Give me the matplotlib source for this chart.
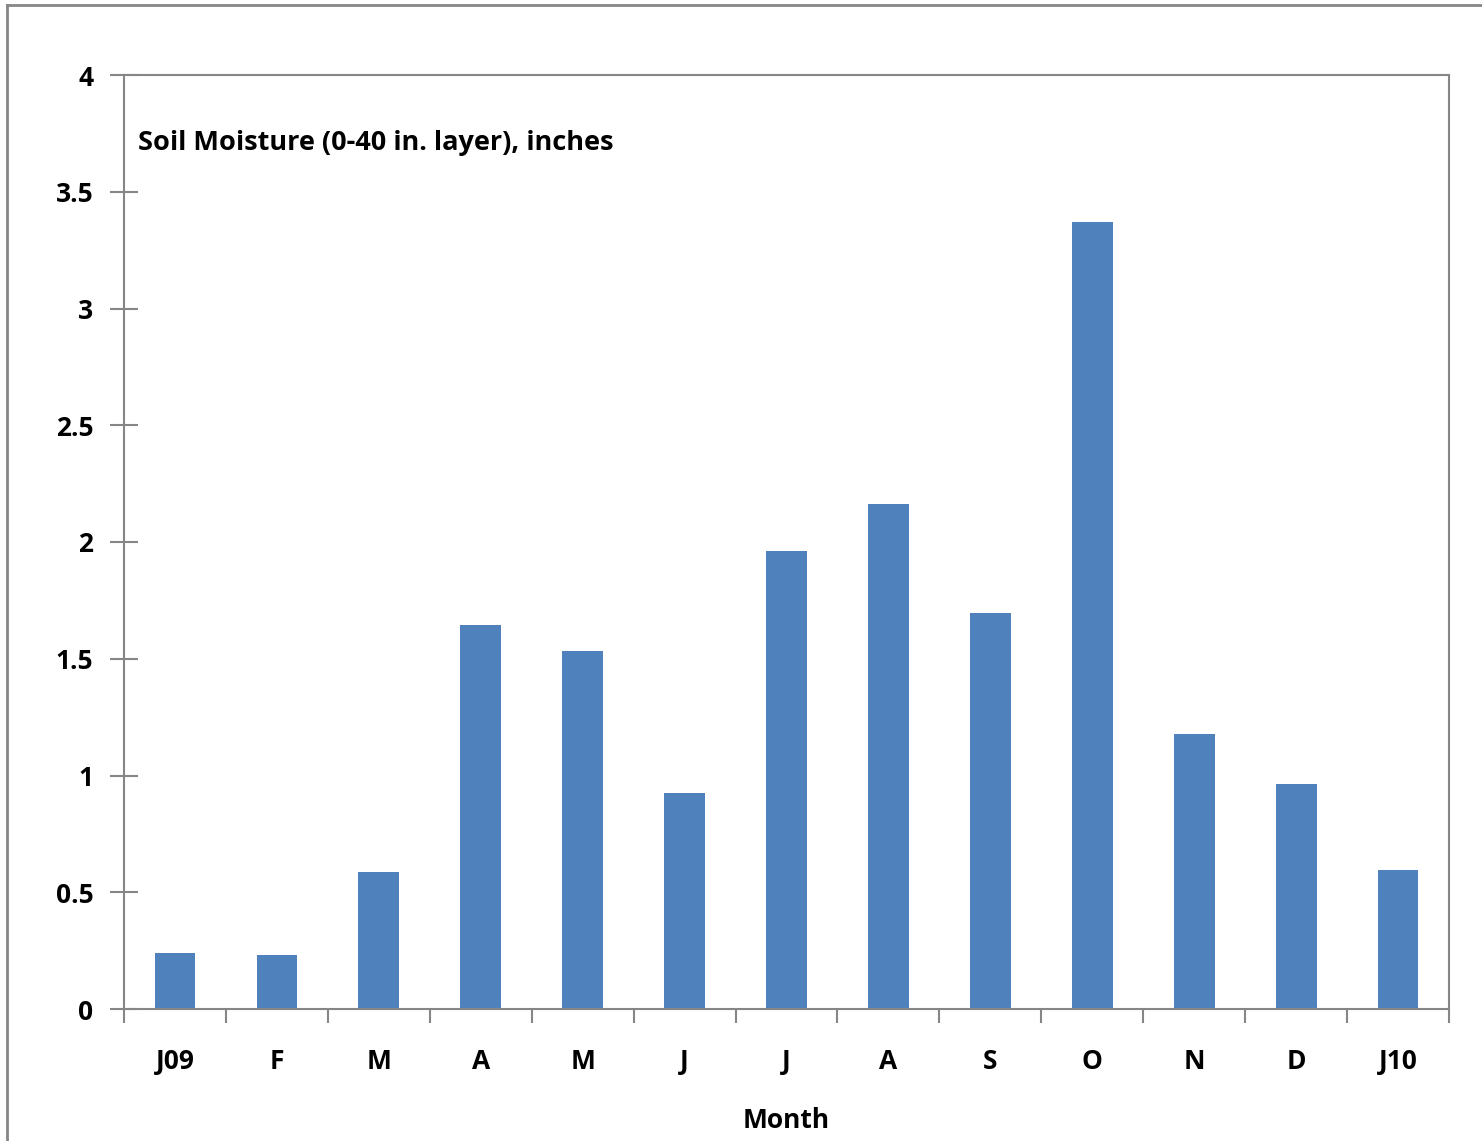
import matplotlib
matplotlib.use("Agg")
import matplotlib.pyplot as plt
from matplotlib.lines import Line2D
import numpy as np

months = ['J09', 'F', 'M', 'A', 'M', 'J', 'J', 'A', 'S', 'O', 'N', 'D', 'J10']
moisture = [0.24, 0.23, 0.587, 1.645, 1.533, 0.925, 1.961, 2.163, 1.696, 3.37, 1.178, 0.964, 0.595]

plt.rcParams['font.family'] = ['Open Sans', 'DejaVu Sans']
plt.rcParams['font.weight'] = 'bold'
fs = 19

grey = '#868686'
fig = plt.figure(figsize=(14.82, 11.41), dpi=100)
ax = fig.add_axes([124/1482, 1 - 1009/1141, (1449-124)/1482, (1009-75)/1141])

x = np.arange(len(months))
ax.bar(x, moisture, width=0.4, color='#4F81BD', zorder=2)

ax.set_xlim(-0.5, len(months) - 0.5)
ax.set_ylim(0, 4)
ax.set_yticks(np.arange(0, 4.01, 0.5))
ax.set_yticklabels(['0', '0.5', '1', '1.5', '2', '2.5', '3', '3.5', '4'], fontweight='bold', fontsize=fs)
ax.set_xticks(x)
ax.set_xticklabels(months, fontweight='bold', fontsize=fs)
ax.set_xticks(np.arange(-0.5, len(months), 1), minor=True)
ax.tick_params(axis='x', which='major', length=0, pad=28)
ax.tick_params(axis='x', which='minor', length=10, width=1.5, color=grey, direction='out')
ax.tick_params(axis='y', length=20, width=1.5, color=grey, direction='inout', pad=12)

for s in ax.spines.values():
    s.set_color(grey)
    s.set_linewidth(1.5)

ax.set_xlabel('Month', fontsize=fs, fontweight='bold', labelpad=23)
ax.text((138-124)/(1449-124), (1009-143)/(1009-75), 'Soil Moisture (0-40 in. layer), inches',
        transform=ax.transAxes, fontsize=19.5, fontweight='bold', va='center', ha='left')

# outer chart frame (left and top edges visible)
fig.add_artist(Line2D([7/1482, 7/1482], [0, 1 - 5/1141], transform=fig.transFigure, color=grey, lw=2))
fig.add_artist(Line2D([7/1482, 1], [1 - 5/1141, 1 - 5/1141], transform=fig.transFigure, color=grey, lw=2))

fig.savefig('out.png', dpi=100)
